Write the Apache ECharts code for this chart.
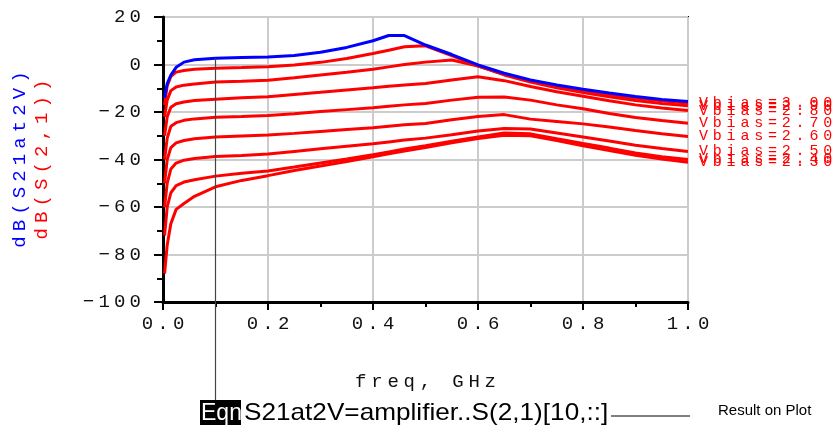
<!DOCTYPE html>
<html><head><meta charset="utf-8">
<script src="https://cdn.jsdelivr.net/npm/echarts@6/dist/echarts.min.js"></script>
<style>html,body{margin:0;padding:0;background:#fff}#c{width:840px;height:447px}</style>
</head><body><div id="c"></div>
<script>
// ---- data ----
const freq = [0.003,0.008,0.015,0.025,0.04,0.06,0.1,0.15,0.2,0.25,0.3,0.35,0.4,0.43,0.46,0.5,0.55,0.6,0.65,0.7,0.75,0.8,0.85,0.9,0.95,1.0];
const s21at2V = [-14,-8,-4.5,-1.2,1,2,2.6,2.9,3.2,3.8,5.2,7.2,10,12.2,12.2,8.2,4.2,-0.2,-3.7,-6.5,-8.6,-10.4,-12,-13.5,-14.7,-15.6];
const vbias300 = [-17,-9,-5,-3.2,-2.5,-2,-1.6,-1.3,-0.9,-0.2,0.9,2.5,4.6,6,7.5,7.9,3.7,-0.7,-4.1,-7,-9.1,-10.9,-12.6,-14.1,-15.3,-16.3];
const vbias290 = [-22,-15,-11,-9.5,-8.7,-8.2,-7.4,-7.1,-6.6,-5.6,-4.4,-3.3,-2,-1,0,1,1.9,-0.6,-4.4,-7.4,-9.8,-11.8,-13.6,-15.2,-16.4,-17.4];
const vbias280 = [-30,-22,-18,-16.5,-15.8,-15.2,-14.6,-14,-13.6,-12.6,-11.7,-10.7,-9.8,-9.2,-8.6,-8,-6.5,-5.2,-6.8,-9.3,-11.5,-13.4,-15.3,-17,-18.3,-19.4];
const vbias270 = [-40,-31,-26,-24.5,-23.5,-22.9,-22.2,-21.9,-21.5,-20.7,-19.8,-19,-18.2,-17.6,-17,-16.4,-15,-13.8,-13.7,-15,-17,-18.6,-20.6,-22.3,-23.6,-24.7];
const vbias260 = [-50,-40,-35,-33,-32,-31.3,-30.5,-30.1,-29.7,-29,-28.2,-27.4,-26.6,-26,-25.4,-24.8,-23.3,-21.9,-21.1,-23,-24,-25,-26.3,-27.8,-29.2,-30.3];
const vbias250 = [-60,-50,-44,-41.5,-40.3,-39.6,-38.7,-38.3,-37.7,-36.6,-35.5,-34.4,-33.4,-32.6,-31.8,-31,-29.6,-28,-26.9,-27.2,-28.8,-30.5,-32.2,-34,-35.4,-36.6];
const vbias240 = [-72,-60,-54,-51,-49.5,-48.5,-47,-45.8,-44.8,-43.2,-41.5,-39.8,-38,-36.8,-35.6,-34.2,-32.3,-30.5,-28.8,-29.2,-31.3,-33.3,-35.2,-37.3,-38.8,-40];
const vbias230 = [-88,-76,-67,-61,-58.5,-55.5,-51.5,-48.8,-46.8,-44.6,-42.7,-40.8,-38.9,-37.6,-36.4,-35,-33,-31.2,-29.8,-30,-32,-34.2,-36.2,-38.2,-39.8,-41.2];
const redNames = ['Vbias=3.00','Vbias=2.90','Vbias=2.80','Vbias=2.70','Vbias=2.60','Vbias=2.50','Vbias=2.40','Vbias=2.30'];
const redValues = [vbias300,vbias290,vbias280,vbias270,vbias260,vbias250,vbias240,vbias230];
const yTicks = {min:-100, max:20, step:20};
const xTicks = {min:0, max:1, step:0.2};
const markerFreq = 0.1;

// ---- helpers ----
const MONO = '"Liberation Mono", "DejaVu Sans Mono", monospace';
const SANS = '"Liberation Sans", Arial, sans-serif';
function spaced(str, sp){ return String(str).split('').join('{'+sp+'| }'); }
function spacedTag(str, tag, sp){ return String(str).split('').map(c=>'{'+tag+'|'+c+'}').join('{'+sp+'| }'); }
function pairs(vals){ return freq.map((f,i)=>[f, vals[i]]); }

const chart = echarts.init(document.getElementById('c'), null, {renderer:'canvas'});

const series = redValues.map((v,i)=>({
  name: redNames[i], type:'line', data: pairs(v), symbol:'none', smooth:false,
  lineStyle:{color:'#ff0000', width:3}, itemStyle:{color:'#ff0000'}, z: 2,
  endLabel:{show:true, distance:11, color:'#ff0000', fontFamily:MONO, fontSize:15,
    formatter: ()=>spaced(redNames[i],'sp'),
    rich:{sp:{fontSize:8, fontFamily:MONO}}}
}));
series.push({name:'S21at2V', type:'line', data:pairs(s21at2V), symbol:'none', smooth:false,
  lineStyle:{color:'#0000ff', width:3}, itemStyle:{color:'#0000ff'}, z:3});

const tickRich = {sp:{fontSize:7, fontFamily:MONO}};
chart.setOption({
  animation:false,
  backgroundColor:'#fff',
  grid:{left:163, right:152, top:17, bottom:145, show:true, borderColor:'#000', borderWidth:2, backgroundColor:'transparent'},
  xAxis:{type:'value', min:xTicks.min, max:xTicks.max, interval:xTicks.step,
    name: spaced('freq, GHz','sp'), nameLocation:'middle', nameGap:70,
    nameTextStyle:{fontFamily:MONO, fontSize:19, color:'#111', rich:{sp:{fontSize:8, fontFamily:MONO}}},
    axisLine:{show:true, onZero:false, lineStyle:{color:'#000', width:3}},
    axisTick:{show:true, length:8, lineStyle:{color:'#000', width:2}},
    minorTick:{show:true, splitNumber:2, length:5, lineStyle:{color:'#000', width:2}},
    splitLine:{show:true, lineStyle:{color:'#cccccc', width:2}},
    axisLabel:{margin:12, fontFamily:MONO, fontSize:19, color:'#111',
      formatter:(v)=>spaced(v.toFixed(1),'sp'), rich:tickRich}
  },
  yAxis:{type:'value', min:yTicks.min, max:yTicks.max, interval:yTicks.step,
    name: spacedTag('dB(S21at2V)','b','sp') + '\n' + spacedTag('dB(S(2,1))','r','sp'),
    nameLocation:'middle', nameRotate:90, nameGap:110,
    nameTextStyle:{fontFamily:MONO, fontSize:19, rich:{
      b:{color:'#0000ff', fontFamily:MONO, fontSize:19, lineHeight:22},
      r:{color:'#ff0000', fontFamily:MONO, fontSize:19, lineHeight:22},
      sp:{fontSize:8.5, fontFamily:MONO, lineHeight:22}}},
    axisLine:{show:true, onZero:false, lineStyle:{color:'#000', width:3}},
    axisTick:{show:true, length:9, lineStyle:{color:'#000', width:2}},
    minorTick:{show:true, splitNumber:2, length:6, lineStyle:{color:'#000', width:2}},
    splitLine:{show:true, lineStyle:{color:'#cccccc', width:2}},
    axisLabel:{margin:22, fontFamily:MONO, fontSize:19, color:'#111',
      formatter:(v)=>spaced(String(v).replace('-','\u2212'),'sp'), rich:tickRich}
  },
  series: series
});

// marker line from the blue trace at freq=0.1 down to the equation box
const iMark = freq.indexOf(markerFreq);
const pTop = chart.convertToPixel({xAxisIndex:0, yAxisIndex:0}, [markerFreq, s21at2V[iMark]]);
const eqnTop = 400;
chart.setOption({
  graphic:[
    {type:'line', shape:{x1:pTop[0], y1:pTop[1], x2:pTop[0], y2:eqnTop}, style:{stroke:'#444', lineWidth:1.2}, z:10},
    {type:'rect', shape:{x:200, y:eqnTop, width:41, height:25}, style:{fill:'#000'}},
    {type:'text', x:201, y:eqnTop+2, scaleX:1.0, style:{text:'Eqn', fill:'#fff', font:'23px '+SANS}},
    {type:'text', x:244, y:eqnTop+1, scaleX:1.09, style:{text:'S21at2V=amplifier..S(2,1)[10,::]', fill:'#000', font:'24px '+SANS}},
    {type:'line', shape:{x1:611, y1:416, x2:690, y2:416}, style:{stroke:'#000', lineWidth:1}},
    {type:'text', x:718, y:403, style:{text:'Result on Plot', fill:'#000', font:'15px '+SANS}}
  ]
});
</script></body></html>
